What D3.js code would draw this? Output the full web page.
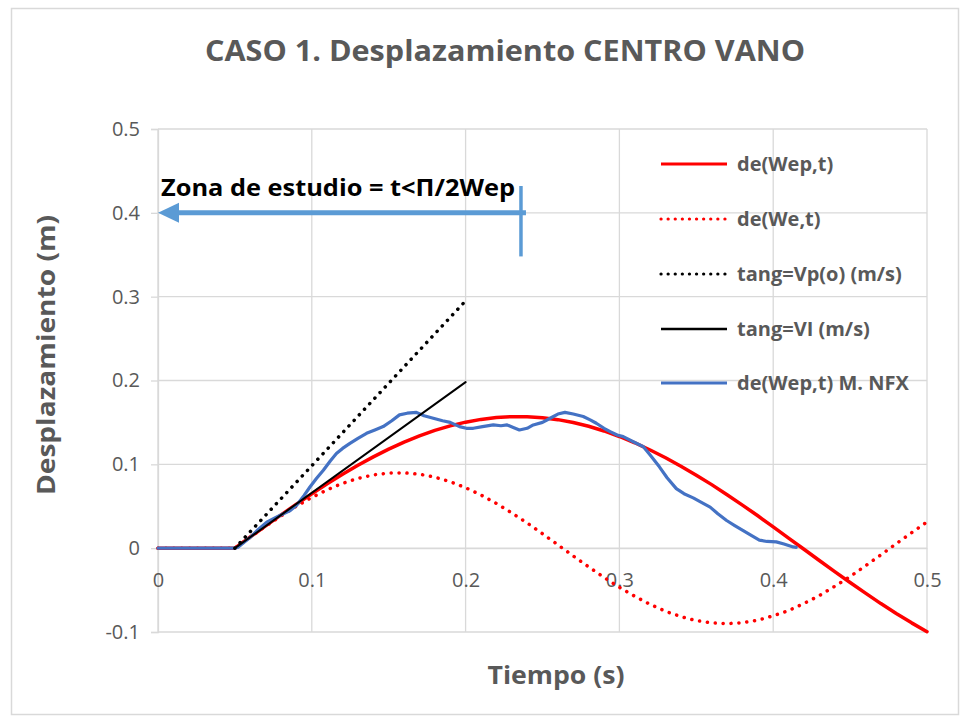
<!DOCTYPE html>
<html><head><meta charset="utf-8">
<script src="https://cdn.jsdelivr.net/npm/d3@7"></script>
<style>body{margin:0;background:#fff}svg{display:block}</style>
</head><body>
<svg id="c" width="960" height="716"></svg>
<script>
// ---- data ----
const xTicks = [0, 0.1, 0.2, 0.3, 0.4, 0.5];
const yTicks = [-0.1, 0, 0.1, 0.2, 0.3, 0.4, 0.5];
const xTickLabels = ["0", "0.1", "0.2", "0.3", "0.4", "0.5"];
const yTickLabels = ["-0.1", "0", "0.1", "0.2", "0.3", "0.4", "0.5"];

const tGrid = [0, 0.05, 0.06, 0.07, 0.08, 0.09, 0.10, 0.11, 0.12, 0.13, 0.14, 0.15, 0.16, 0.17, 0.18, 0.19, 0.20,
  0.21, 0.22, 0.23, 0.24, 0.25, 0.26, 0.27, 0.28, 0.29, 0.30, 0.31, 0.32, 0.33, 0.34, 0.35, 0.36, 0.37, 0.38,
  0.39, 0.40, 0.41, 0.42, 0.43, 0.44, 0.45, 0.46, 0.47, 0.48, 0.49, 0.50];
const deWep = [0, 0, 0.0134, 0.0266, 0.0397, 0.0524, 0.0648, 0.0768, 0.0881, 0.0988, 0.1089, 0.1181, 0.1265,
  0.1339, 0.1405, 0.1459, 0.1503, 0.1536, 0.1558, 0.1569, 0.1568, 0.1556, 0.1533, 0.1499, 0.1454, 0.1398,
  0.1332, 0.1257, 0.1171, 0.1079, 0.0978, 0.0871, 0.0758, 0.0638, 0.0514, 0.0386, 0.0253, 0.0120, -0.0013,
  -0.0147, -0.0279, -0.0409, -0.0537, -0.0661, -0.0779, -0.0891, -0.0997];
const deWe = [0, 0, 0.0132, 0.0262, 0.0385, 0.0501, 0.0605, 0.0696, 0.0773, 0.0832, 0.0874, 0.0896, 0.0899,
  0.0882, 0.0847, 0.0793, 0.0721, 0.0634, 0.0533, 0.0421, 0.0301, 0.0172, 0.0040, -0.0093, -0.0223, -0.0349,
  -0.0467, -0.0574, -0.0671, -0.0753, -0.0817, -0.0864, -0.0891, -0.0900, -0.0889, -0.0859, -0.0807, -0.0745,
  -0.0660, -0.0566, -0.0455, -0.0339, -0.0210, -0.0080, 0.0053, 0.0185, 0.0313];

const tangT = [0.05, 0.2];
const tangVp = [0, 0.295];
const tangVl = [0, 0.198];

const nfxT = [0, 0.05, 0.052, 0.06, 0.065, 0.0707, 0.076, 0.0815, 0.086, 0.090, 0.095, 0.0988, 0.103, 0.1075,
  0.112, 0.116, 0.120, 0.1248, 0.130, 0.1356, 0.141, 0.1464, 0.152, 0.157, 0.162, 0.168, 0.173, 0.179, 0.185,
  0.190, 0.196, 0.2005, 0.205, 0.211, 0.218, 0.223, 0.227, 0.231, 0.235, 0.240, 0.244, 0.250, 0.255, 0.260,
  0.2646, 0.270, 0.2765, 0.281, 0.285, 0.290, 0.294, 0.2985, 0.3025, 0.309, 0.3156, 0.320, 0.326, 0.331,
  0.337, 0.342, 0.348, 0.353, 0.359, 0.364, 0.3697, 0.375, 0.3805, 0.386, 0.391, 0.396, 0.402, 0.407,
  0.413, 0.415];
const nfxY = [0, 0, 0.001, 0.013, 0.022, 0.031, 0.036, 0.041, 0.045, 0.051, 0.063, 0.073, 0.083, 0.093,
  0.104, 0.113, 0.119, 0.125, 0.131, 0.137, 0.141, 0.145, 0.152, 0.159, 0.161, 0.162, 0.158, 0.155, 0.152,
  0.150, 0.145, 0.143, 0.143, 0.145, 0.147, 0.146, 0.147, 0.144, 0.141, 0.143, 0.147, 0.150, 0.155, 0.160,
  0.162, 0.160, 0.157, 0.153, 0.149, 0.143, 0.139, 0.135, 0.133, 0.127, 0.121, 0.111, 0.097, 0.084,
  0.071, 0.065, 0.060, 0.055, 0.049, 0.041, 0.033, 0.027, 0.021, 0.015, 0.0095, 0.008, 0.0075, 0.005,
  0.0015, 0.001];

const zoneX = [0, 0.236];
const zoneY = 0.4;
const zoneTick = [0.432, 0.348];

const titleText = "CASO 1. Desplazamiento CENTRO VANO";
const xTitle = "Tiempo (s)";
const yTitle = "Desplazamiento (m)";
const zoneText = "Zona de estudio = t<Π/2Wep";
const legendLabels = ["de(Wep,t)", "de(We,t)", "tang=Vp(o) (m/s)", "tang=VI (m/s)", "de(Wep,t) M. NFX"];

// ---- drawing ----
const svg = d3.select("#c");
const FONT = "'Open Sans', 'Noto Sans', sans-serif";
const TXT = "#595959";
const GRID = "#d9d9d9";

svg.append("rect").attr("x", 11.5).attr("y", 8.5).attr("width", 947).attr("height", 706)
  .attr("fill", "#fff").attr("stroke", GRID).attr("stroke-width", 1.5);

const x = d3.scaleLinear().domain([0, 0.5]).range([158, 927]);
const y = d3.scaleLinear().domain([-0.1, 0.5]).range([632, 129]);

// gridlines
svg.append("g").selectAll("line.h").data(yTicks).join("line")
  .attr("x1", x(0)).attr("x2", x(0.5)).attr("y1", d => y(d)).attr("y2", d => y(d))
  .attr("stroke", GRID).attr("stroke-width", 1.3);
svg.append("g").selectAll("line.v").data(xTicks).join("line")
  .attr("x1", d => x(d)).attr("x2", d => x(d)).attr("y1", y(0.5)).attr("y2", y(-0.1))
  .attr("stroke", GRID).attr("stroke-width", 1.3);

// y axis
const yAxis = d3.axisLeft(y).tickValues(yTicks).tickSize(7).tickPadding(11)
  .tickFormat((d, i) => yTickLabels[i]);
const gy = svg.append("g").attr("transform", `translate(${x(0)},0)`).call(yAxis);
gy.select(".domain").attr("stroke", GRID).attr("stroke-width", 1.3);
gy.selectAll(".tick line").attr("stroke", GRID).attr("stroke-width", 1.3);
gy.selectAll(".tick text").attr("fill", TXT).style("font-family", FONT).style("font-size", "20px");

// x axis at y=0
const xAxis = d3.axisBottom(x).tickValues(xTicks).tickSize(0).tickPadding(20)
  .tickFormat((d, i) => xTickLabels[i]);
const gx = svg.append("g").attr("transform", `translate(0,${y(0)})`).call(xAxis);
gx.select(".domain").attr("stroke", GRID).attr("stroke-width", 1.3);
gx.selectAll(".tick text").attr("fill", TXT).style("font-family", FONT).style("font-size", "20px")
  .attr("dy", "0.32em").attr("y", 32);

// series
const line = d3.line().x(d => x(d[0])).y(d => y(d[1]));
const redSolid = tGrid.map((t, i) => [t, deWep[i]]);
const redDot = tGrid.map((t, i) => [t, deWe[i]]);
const blue = nfxT.map((t, i) => [t, nfxY[i]]);
const bDot = tangT.map((t, i) => [t, tangVp[i]]);
const bSolid = tangT.map((t, i) => [t, tangVl[i]]);

const series = [
  {data: redSolid, color: "#ff0000", w: 3.5, dash: null},
  {data: redDot, color: "#ff0000", w: 3.5, dash: "0.1 7.8"},
  {data: blue, color: "#4472c4", w: 3.2, dash: null},
  {data: bDot, color: "#000000", w: 3.5, dash: "0.1 7.5"},
  {data: bSolid, color: "#000000", w: 2, dash: null}
];
const gS = svg.append("g");
series.forEach(s => {
  gS.append("path").datum(s.data).attr("d", line).attr("fill", "none")
    .attr("stroke", s.color).attr("stroke-width", s.w)
    .attr("stroke-linecap", "round").attr("stroke-linejoin", "round")
    .attr("stroke-dasharray", s.dash);
});

// legend
const legendSeries = [series[0], series[1], series[3], series[4], series[2]];
const legY = [164, 219, 274, 329, 383];
const gL = svg.append("g");
legendSeries.forEach((s, i) => {
  gL.append("line").attr("x1", 661).attr("x2", 727).attr("y1", legY[i]).attr("y2", legY[i])
    .attr("stroke", s.color).attr("stroke-width", s.w === 2 ? 2.5 : 3.2)
    .attr("stroke-linecap", s.dash ? "round" : "butt").attr("stroke-dasharray", s.dash ? "0.1 7" : null);
  gL.append("text").attr("x", 737).attr("y", legY[i]).attr("dy", "0.35em")
    .attr("fill", TXT).style("font-family", FONT).style("font-size", "20px").style("font-weight", 700)
    .text(legendLabels[i]);
});

// zone annotation
const AC = "#5b9bd5";
svg.append("line").attr("x1", x(zoneX[0]) + 18).attr("x2", x(zoneX[1]) + 5)
  .attr("y1", y(zoneY)).attr("y2", y(zoneY)).attr("stroke", AC).attr("stroke-width", 5);
svg.append("path")
  .attr("d", `M${x(zoneX[0])},${y(zoneY)} L${x(zoneX[0]) + 21},${y(zoneY) - 10} L${x(zoneX[0]) + 21},${y(zoneY) + 10} Z`)
  .attr("fill", AC);
svg.append("line").attr("x1", x(zoneX[1])).attr("x2", x(zoneX[1]))
  .attr("y1", y(zoneTick[0])).attr("y2", y(zoneTick[1])).attr("stroke", AC).attr("stroke-width", 3.5);
svg.append("text").attr("x", 161).attr("y", 196).attr("fill", "#000")
  .style("font-family", FONT).style("font-size", "24px").style("font-weight", 700)
  .attr("textLength", 354).attr("lengthAdjust", "spacingAndGlyphs").text(zoneText);

// titles
svg.append("text").attr("x", 505).attr("y", 61).attr("text-anchor", "middle").attr("fill", TXT)
  .style("font-family", FONT).style("font-size", "29px").style("font-weight", 700)
  .attr("textLength", 600).attr("lengthAdjust", "spacingAndGlyphs").text(titleText);
svg.append("text").attr("x", 556).attr("y", 684).attr("text-anchor", "middle").attr("fill", TXT)
  .style("font-family", FONT).style("font-size", "25px").style("font-weight", 700)
  .attr("textLength", 137).attr("lengthAdjust", "spacingAndGlyphs").text(xTitle);
svg.append("text").attr("transform", "translate(55,355) rotate(-90)").attr("text-anchor", "middle")
  .attr("fill", TXT).style("font-family", FONT).style("font-size", "25px").style("font-weight", 700)
  .attr("textLength", 280).attr("lengthAdjust", "spacingAndGlyphs").text(yTitle);
</script>
</body></html>
